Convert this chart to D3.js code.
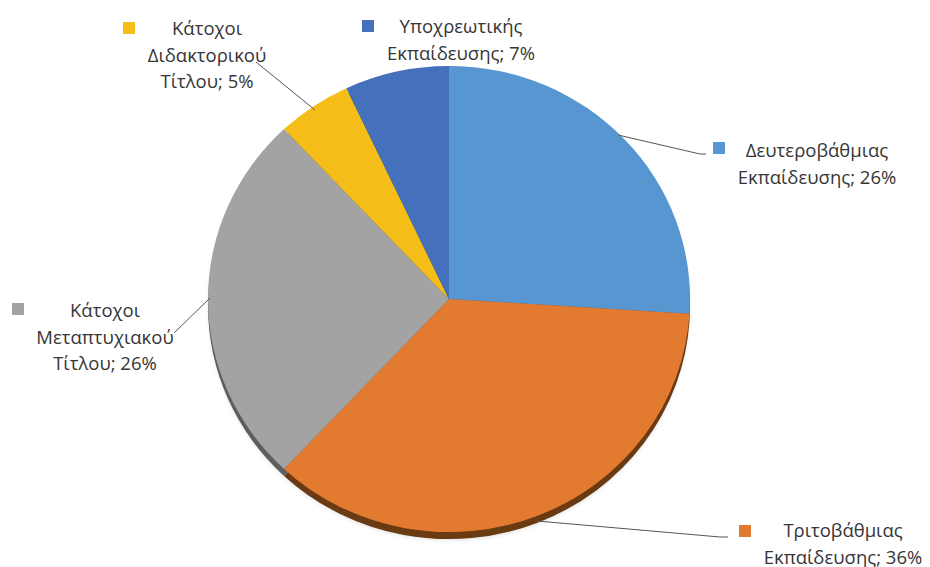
<!DOCTYPE html>
<html>
<head>
<meta charset="utf-8">
<script src="https://cdn.jsdelivr.net/npm/d3@7"></script>
<style>
  html, body { margin: 0; padding: 0; background: #fff; }
  svg { display: block; }
</style>
</head>
<body>
<svg id="chart" width="930" height="567"></svg>
<script>
// ---- data ----
const categories = [
  "Δευτεροβάθμιας Εκπαίδευσης",
  "Τριτοβάθμιας Εκπαίδευσης",
  "Κάτοχοι Μεταπτυχιακού Τίτλου",
  "Κάτοχοι Διδακτορικού Τίτλου",
  "Υποχρεωτικής Εκπαίδευσης"
];
const values = [26, 36, 26, 5, 7];
const labelLines = [
  ["Δευτεροβάθμιας", "Εκπαίδευσης; 26%"],
  ["Τριτοβάθμιας", "Εκπαίδευσης; 36%"],
  ["Κάτοχοι", "Μεταπτυχιακού", "Τίτλου; 26%"],
  ["Κάτοχοι", "Διδακτορικού", "Τίτλου; 5%"],
  ["Υποχρεωτικής", "Εκπαίδευσης; 7%"]
];
const colors = ["#5796d0", "#e27a30", "#a3a3a3", "#f5bd18", "#4470bc"];
const sideColors = ["#2f5f8e", "#6a3a12", "#5e5e5e", "#8a6a08", "#243f72"];

// label layout (legend square x,y ; text centre x ; first baseline y)
const labelPos = [
  { sx: 713, sy: 142, cx: 817, by: 157 },
  { sx: 739, sy: 525, cx: 843, by: 537 },
  { sx: 12,  sy: 303, cx: 105, by: 317 },
  { sx: 123, sy: 22,  cx: 207, by: 35 },
  { sx: 362, sy: 20,  cx: 461, by: 33 }
];
const leaders = [
  [[618, 135], [700, 154], [706, 154]],
  [[537, 521], [720, 537], [728, 537]],
  [[174, 333], [210, 298]],
  [[256, 62], [315, 110]],
  null
];

const svg = d3.select("#chart");
const cx = 449, cy = 299, R = 241, sy = 0.967, depth = 7;

const pie = d3.pie().sort(null).value(d => d)
  .startAngle(0).endAngle(2 * Math.PI);
const arcs = pie(values);
const arc = d3.arc().innerRadius(0).outerRadius(R);

// soft shadow
const defs = svg.append("defs");
const f = defs.append("filter").attr("id", "blur").attr("x", "-10%").attr("y", "-10%")
  .attr("width", "120%").attr("height", "120%");
f.append("feGaussianBlur").attr("stdDeviation", 2);

svg.append("ellipse")
  .attr("cx", cx).attr("cy", cy + depth + 1)
  .attr("rx", R - 1).attr("ry", R * sy)
  .attr("fill", "#bdbdbd").attr("opacity", 0.5)
  .attr("filter", "url(#blur)");

// side (depth) layer
const sideG = svg.append("g")
  .attr("transform", `translate(${cx},${cy + depth}) scale(1,${sy})`);
sideG.selectAll("path").data(arcs).join("path")
  .attr("d", arc)
  .attr("fill", (d, i) => sideColors[i]);

// top layer
const topG = svg.append("g")
  .attr("transform", `translate(${cx},${cy}) scale(1,${sy})`);
topG.selectAll("path").data(arcs).join("path")
  .attr("d", arc)
  .attr("fill", (d, i) => colors[i]);

// leader lines
const line = d3.line();
svg.append("g").selectAll("path")
  .data(leaders.filter(d => d))
  .join("path")
  .attr("d", line)
  .attr("fill", "none")
  .attr("stroke", "#555")
  .attr("stroke-width", 1);

// labels
const lg = svg.append("g")
  .style("font-family", "'Open Sans', 'Noto Sans', sans-serif")
  .style("font-size", "18.5px")
  .attr("fill", "#363636");

labelLines.forEach((lines, i) => {
  const p = labelPos[i];
  lg.append("rect")
    .attr("x", p.sx).attr("y", p.sy)
    .attr("width", 12).attr("height", 12)
    .attr("fill", colors[i]);
  const t = lg.append("text").attr("text-anchor", "middle");
  lines.forEach((s, k) => {
    t.append("tspan").attr("x", p.cx).attr("y", p.by + k * 26.5).text(s);
  });
});
</script>
</body>
</html>
